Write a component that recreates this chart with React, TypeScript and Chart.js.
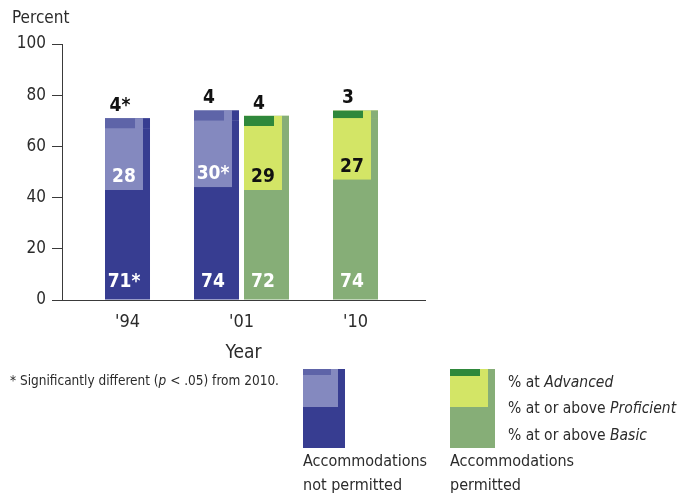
import React, { useEffect, useRef } from 'react';
import { Chart, registerables } from 'chart.js';

Chart.register(...registerables);

// ---- data ----
const years = ["'94", "'01", "'10"];
const yearPos = [0, 1, 2];

const npBasic = [71, 74, null];
const npProficient = [28, 30, null];
const npAdvanced = [4, 4, null];
const npBasicSig = [true, false, false];
const npProficientSig = [false, true, false];
const npAdvancedSig = [true, false, false];

const pBasic = [null, 72, 74];
const pProficient = [null, 29, 27];
const pAdvanced = [null, 4, 3];
const pBasicSig = [false, false, false];
const pProficientSig = [false, false, false];
const pAdvancedSig = [false, false, false];

const yTicks = [0, 20, 40, 60, 80, 100];

// ---- styles ----
const FONT = '"Liberation Sans Narrow", "DejaVu Sans Condensed", "Arial Narrow", sans-serif';
const TEXT = '#2b2b2b';
const AXIS = '#3a3a3a';
const NAVY = '#373d91';
const NP_PROF = '#8489bf';
const NP_ADV = '#5e64a8';
const GREEN = '#86ae77';
const YELLOW = '#d3e566';
const DKGREEN = '#2f883b';

type Val = number | null;

function ranges(top: Val[], height: Val[] | null) {
  return yearPos.map((x, i) => {
    const t = top[i];
    if (t == null) return { x, y: null };
    const h = height ? (height[i] as number) : t;
    return { x, y: [t - h, t] };
  });
}

const labelPlugin = {
  id: 'barLabels',
  afterDatasetsDraw(chart: any) {
    const ctx = chart.ctx;
    ctx.save();
    chart.data.datasets.forEach((ds: any, di: number) => {
      if (!ds.labelKind) return;
      const meta = chart.getDatasetMeta(di);
      meta.data.forEach((bar: any, i: number) => {
        const v = ds.values[i];
        if (v == null) return;
        const txt = String(v) + (ds.sig[i] ? '*' : '');
        const { x, y, base, width } = bar.getProps(['x', 'y', 'base', 'width'], true);
        const left = x - width / 2;
        ctx.font = `bold 19px ${FONT}`;
        ctx.textAlign = 'center';
        ctx.textBaseline = 'middle';
        if (ds.labelKind === 'basic') {
          ctx.fillStyle = '#ffffff';
          ctx.fillText(txt, left + (width - 7) / 2, base - 17);
        } else if (ds.labelKind === 'prof') {
          ctx.fillStyle = ds.labelColor;
          ctx.fillText(txt, left + (width - 7) / 2, base - 13);
        } else if (ds.labelKind === 'adv') {
          ctx.fillStyle = '#111111';
          ctx.fillText(txt, left + (width - 15) / 2, y - 12);
        }
      });
    });
    ctx.restore();
  },
};

export default function App() {
  const ref = useRef<HTMLCanvasElement | null>(null);

  useEffect(() => {
    if (!ref.current) return;
    const common = {
      skipNull: true,
      barPercentage: 0.9,
      categoryPercentage: 100 / 114,
      maxBarThickness: 45,
      borderSkipped: false,
    };
    const group = (
      stack: string,
      basic: Val[],
      prof: Val[],
      adv: Val[],
      bSig: boolean[],
      pSig: boolean[],
      aSig: boolean[],
      cBase: string,
      cProf: string,
      cAdv: string,
      profLabel: string
    ) => [
      {
        ...common, stack, order: 3, label: stack + ' basic',
        data: ranges(basic, null),
        backgroundColor: cBase, borderWidth: 0,
        labelKind: 'basic', values: basic, sig: bSig,
      },
      {
        ...common, stack, order: 2, label: stack + ' proficient',
        data: ranges(basic, prof),
        backgroundColor: cProf,
        borderWidth: { top: 0, left: 0, bottom: 0, right: 7 }, borderColor: cBase,
        labelKind: 'prof', values: prof, sig: pSig, labelColor: profLabel,
      },
      {
        ...common, stack, order: 1, label: stack + ' advanced',
        data: ranges(basic, adv),
        backgroundColor: cAdv,
        borderWidth: { top: 0, left: 0, bottom: 0, right: 15 }, borderColor: cProf,
        labelKind: 'adv', values: adv, sig: aSig,
      },
      {
        ...common, stack, order: 0, label: stack + ' edge',
        data: ranges(basic, adv),
        backgroundColor: 'rgba(0,0,0,0)',
        borderWidth: { top: 0, left: 0, bottom: 0, right: 7 }, borderColor: cBase,
      },
    ];

    const datasets = [
      ...group('np', npBasic, npProficient, npAdvanced, npBasicSig, npProficientSig, npAdvancedSig, NAVY, NP_PROF, NP_ADV, '#ffffff'),
      ...group('p', pBasic, pProficient, pAdvanced, pBasicSig, pProficientSig, pAdvancedSig, GREEN, YELLOW, DKGREEN, '#111111'),
    ];

    const chart = new Chart(ref.current, {
      type: 'bar',
      data: { datasets: datasets as any },
      plugins: [labelPlugin],
      options: {
        animation: false,
        responsive: false,
        events: [],
        layout: { padding: { left: 0, top: 44, right: 261, bottom: 131 } },
        plugins: { legend: { display: false }, tooltip: { enabled: false } },
        scales: {
          x: {
            type: 'linear',
            min: -0.5746,
            max: 2.6096,
            offset: false,
            bounds: 'data',
            afterBuildTicks: (s: any) => {
              s.ticks = yearPos.map((v) => ({ value: v }));
            },
            afterFit: (s: any) => {
              s.height = 64;
            },
            grid: { display: false, drawTicks: false },
            border: { display: true, color: AXIS, width: 1 },
            ticks: {
              autoSkip: false,
              maxRotation: 0,
              padding: 12,
              color: TEXT,
              font: { family: FONT, size: 18 },
              callback: (_v: any, i: number) => years[i],
            },
            title: {
              display: true,
              text: 'Year',
              color: TEXT,
              font: { family: FONT, size: 19 },
              padding: 0,
            },
          },
          y: {
            min: 0,
            max: 100,
            stacked: false,
            afterBuildTicks: (s: any) => {
              s.ticks = yTicks.map((v) => ({ value: v }));
            },
            afterFit: (s: any) => {
              s.width = 62;
            },
            grid: { drawOnChartArea: false, drawTicks: true, tickLength: 10, color: AXIS, lineWidth: 1 },
            border: { display: true, color: AXIS, width: 1 },
            ticks: {
              padding: 6,
              color: TEXT,
              font: { family: FONT, size: 17 },
            },
          },
        },
      } as any,
    });
    return () => chart.destroy();
  }, []);

  const txt: React.CSSProperties = {
    position: 'absolute',
    fontFamily: FONT,
    color: TEXT,
    whiteSpace: 'nowrap',
    margin: 0,
  };

  return (
    <div style={{ position: 'absolute', left: 0, top: 0, width: 686, height: 495, background: '#fff', overflow: 'hidden' }}>
      <canvas ref={ref} width={686} height={495} style={{ position: 'absolute', left: 0, top: 0, display: 'block' }} />
      <div style={{ ...txt, left: 12, top: 6, fontSize: 17, lineHeight: '22px' }}>Percent</div>
      <div style={{ ...txt, left: 10, top: 370, fontSize: 13.5, lineHeight: '20px' }}>
        * Significantly different (<i>p</i> &lt; .05) from 2010.
      </div>

      {/* legend swatch: not permitted */}
      <div style={{ position: 'absolute', left: 303, top: 369, width: 42, height: 79, background: NAVY }}>
        <div style={{ position: 'absolute', left: 0, top: 0, width: 35, height: 38, background: NP_PROF }} />
        <div style={{ position: 'absolute', left: 0, top: 0, width: 28, height: 6, background: NP_ADV }} />
      </div>
      {/* legend swatch: permitted */}
      <div style={{ position: 'absolute', left: 450, top: 369, width: 45, height: 79, background: GREEN }}>
        <div style={{ position: 'absolute', left: 0, top: 0, width: 38, height: 38, background: YELLOW }} />
        <div style={{ position: 'absolute', left: 0, top: 0, width: 30, height: 7, background: DKGREEN }} />
      </div>

      <div style={{ ...txt, left: 508, top: 371, fontSize: 15.5, lineHeight: '22px' }}>% at <i>Advanced</i></div>
      <div style={{ ...txt, left: 508, top: 397, fontSize: 15.5, lineHeight: '22px' }}>% at or above <i>Proficient</i></div>
      <div style={{ ...txt, left: 508, top: 424, fontSize: 15.5, lineHeight: '22px' }}>% at or above <i>Basic</i></div>

      <div style={{ ...txt, left: 303, top: 449, fontSize: 16, lineHeight: '24px' }}>
        Accommodations<br />not permitted
      </div>
      <div style={{ ...txt, left: 450, top: 449, fontSize: 16, lineHeight: '24px' }}>
        Accommodations<br />permitted
      </div>
    </div>
  );
}
